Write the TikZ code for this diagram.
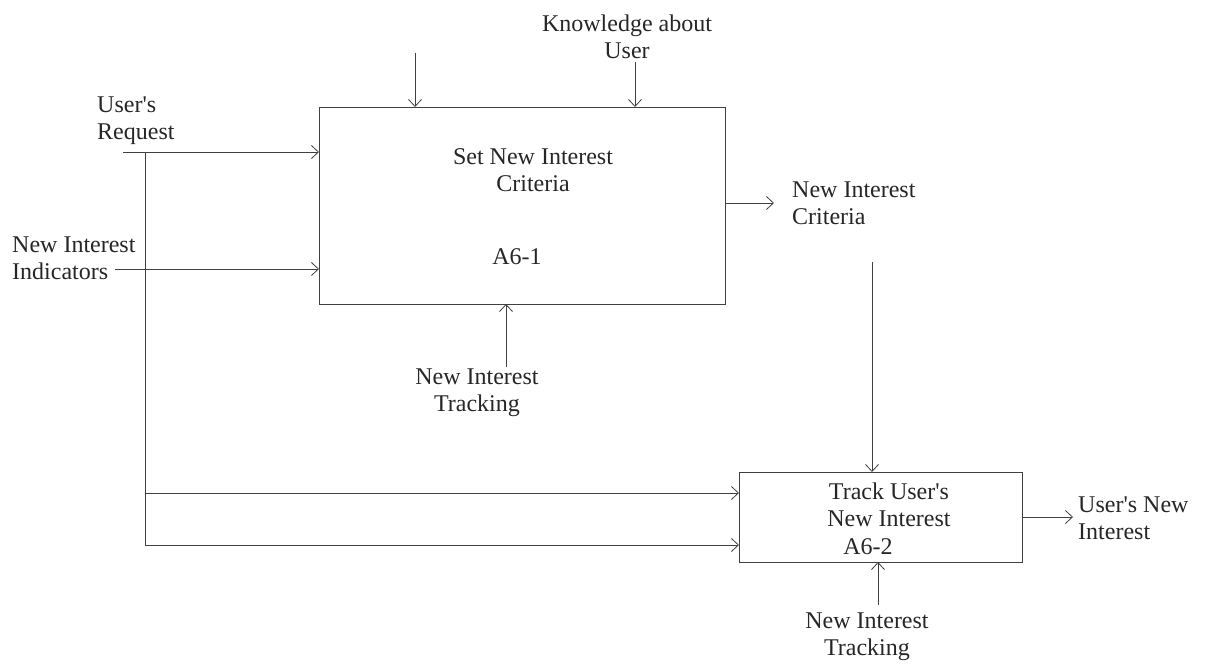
\documentclass[tikz,border=0pt]{standalone}
\usepackage{fontspec}
\newfontfamily\tnr{Liberation Serif}
\usetikzlibrary{arrows.meta}
\begin{document}
\begin{tikzpicture}[x=1pt,y=-1pt,
  line/.style={draw=black!75, line width=0.8pt},
  flow/.style={line, -{Straight Barb[length=7pt,width=13pt,line width=0.8pt]}},
  box/.style={draw=black!75, line width=0.8pt},
  lbl/.style={inner sep=0pt, text=black!85, font=\tnr\fontsize{24}{27}\selectfont},
]
\useasboundingbox (0,0) rectangle (1207,666);

% activity boxes
\coordinate (b1nw) at (319,107);
\coordinate (b1se) at (725,304);
\draw[box] (b1nw) rectangle (b1se);
\coordinate (b2nw) at (739,472);
\coordinate (b2se) at (1022,562);
\draw[box] (b2nw) rectangle (b2se);

% box texts
\node[lbl, align=center] (t1) at (533,170) {Set New Interest\\Criteria};
\node[lbl] (a61) at (517,257) {A6-1};
\node[lbl, align=center] (t2) at (889,505) {Track User's\\New Interest};
\node[lbl] (a62) at (868,547) {A6-2};

% outside labels
\node[lbl, align=center] (know) at (627,37) {Knowledge about\\User};
\node[lbl, align=left, anchor=west] (req) at (97,121) {User's\\Request};
\node[lbl, align=left, anchor=west] (ind) at (12,258) {New Interest\\Indicators};
\node[lbl, align=left, anchor=west] (crit) at (792,203) {New Interest\\Criteria};
\node[lbl, align=center] (trk1) at (477,393) {New Interest\\Tracking};
\node[lbl, align=center] (trk2) at (867,637) {New Interest\\Tracking};
\node[lbl, align=left, anchor=west] (out) at (1078,518) {User's New\\Interest};

% connector points
\coordinate (rq0) at (123,152);
\coordinate (rq1) at (319,152);
\coordinate (br) at (145,152);
\coordinate (br1) at (145,493);
\coordinate (br2) at (145,545);
\coordinate (in2a) at (739,493);
\coordinate (in2b) at (739,545);
\coordinate (id0) at (115,269);
\coordinate (id1) at (319,269);
\coordinate (c1a) at (415,53);
\coordinate (c1b) at (415,107);
\coordinate (c2a) at (635,62);
\coordinate (c2b) at (635,107);
\coordinate (m1a) at (506,367);
\coordinate (m1b) at (506,304);
\coordinate (o1a) at (725,203);
\coordinate (o1b) at (774,203);
\coordinate (cra) at (872,262);
\coordinate (crb) at (872,472);
\coordinate (m2a) at (878,605);
\coordinate (m2b) at (878,562);
\coordinate (o2a) at (1022,517);
\coordinate (o2b) at (1073,517);

% arrows
\draw[flow] (rq0) -- (rq1);
\draw[line] (br) -- (br2);
\draw[flow] (br1) -- (in2a);
\draw[flow] (br2) -- (in2b);
\draw[flow] (id0) -- (id1);
\draw[flow] (c1a) -- (c1b);
\draw[flow] (c2a) -- (c2b);
\draw[flow] (m1a) -- (m1b);
\draw[flow] (o1a) -- (o1b);
\draw[flow] (cra) -- (crb);
\draw[flow] (m2a) -- (m2b);
\draw[flow] (o2a) -- (o2b);
\end{tikzpicture}
\end{document}
